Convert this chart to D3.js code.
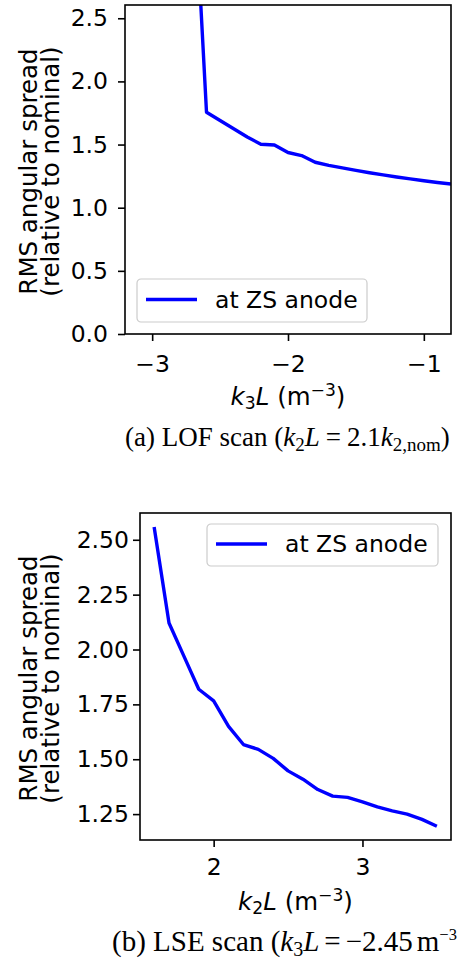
<!DOCTYPE html>
<html>
<head>
<meta charset="utf-8">
<script src="https://cdn.jsdelivr.net/npm/d3@7"></script>
<style>
  html, body { margin: 0; padding: 0; background: #fff; }
  svg { display: block; overflow: hidden; }
  .tick text { font-family: "DejaVu Sans", sans-serif; fill: #000; }
</style>
</head>
<body>
<svg id="fig" width="460" height="961"></svg>
<script>
// (a) LOF scan: k3L sweep at fixed k2L
const lofK3 = [-2.7, -2.6, -2.5, -2.4, -2.3, -2.2, -2.1, -2.0, -1.9, -1.8, -1.7, -1.6, -1.5, -1.4, -1.3, -1.2, -1.1, -1.0, -0.9, -0.8];
const lofSpread = [3.78, 1.756, 1.69, 1.625, 1.56, 1.503, 1.497, 1.437, 1.413, 1.36, 1.335, 1.315, 1.295, 1.277, 1.26, 1.243, 1.228, 1.213, 1.2, 1.187];
const lofXTicks = [-3, -2, -1];
const lofYTicks = [0, 0.5, 1.0, 1.5, 2.0, 2.5];

// (b) LSE scan: k2L sweep at fixed k3L
const lseK2 = [1.6, 1.7, 1.8, 1.9, 2.0, 2.1, 2.2, 2.3, 2.4, 2.5, 2.6, 2.7, 2.8, 2.9, 3.0, 3.1, 3.2, 3.3, 3.4, 3.5];
const lseSpread = [2.558, 2.121, 1.97, 1.819, 1.766, 1.65, 1.567, 1.545, 1.504, 1.447, 1.409, 1.362, 1.332, 1.326, 1.306, 1.283, 1.265, 1.25, 1.226, 1.195];
const lseXTicks = [2, 3];
const lseYTicks = [1.25, 1.50, 1.75, 2.00, 2.25, 2.50];

const seriesName = "at ZS anode";
const yLabel = ["RMS angular spread", "(relative to nominal)"];

const svg = d3.select("#fig");
const minus = s => s.replace("-", "\u2212");

function panel(cfg) {
  const x = d3.scaleLinear().domain(cfg.xDomain).range([cfg.left, cfg.right]);
  const y = d3.scaleLinear().domain(cfg.yDomain).range([cfg.bottom, cfg.top]);
  const g = svg.append("g");
  const clipId = "clip-" + cfg.id;
  g.append("clipPath").attr("id", clipId).append("rect")
    .attr("x", cfg.left).attr("y", cfg.top)
    .attr("width", cfg.right - cfg.left).attr("height", cfg.bottom - cfg.top);

  // data line
  const line = d3.line().x((d, i) => x(cfg.xs[i])).y(d => y(d));
  g.append("path").datum(cfg.ys)
    .attr("clip-path", `url(#${clipId})`)
    .attr("d", line).attr("fill", "none")
    .attr("stroke", "#0000ff").attr("stroke-width", 3.4)
    .attr("stroke-linejoin", "round").attr("stroke-linecap", "butt");

  // axes
  const xAxis = d3.axisBottom(x).tickValues(cfg.xTicks).tickSize(7)
    .tickPadding(cfg.xPad).tickSizeOuter(0).tickFormat(d => minus(d3.format("d")(d)));
  const yAxis = d3.axisLeft(y).tickValues(cfg.yTicks).tickSize(7)
    .tickPadding(cfg.yPad).tickSizeOuter(0).tickFormat(d3.format(cfg.yFmt));
  const gx = g.append("g").attr("transform", `translate(0,${cfg.bottom})`).call(xAxis);
  const gy = g.append("g").attr("transform", `translate(${cfg.left},0)`).call(yAxis);
  [gx, gy].forEach(a => {
    a.select(".domain").remove();
    a.selectAll(".tick line").attr("stroke", "#000").attr("stroke-width", 1.6);
    a.selectAll(".tick text").attr("font-size", cfg.tickSize);
  });

  // frame
  g.append("rect").attr("x", cfg.left).attr("y", cfg.top)
    .attr("width", cfg.right - cfg.left).attr("height", cfg.bottom - cfg.top)
    .attr("fill", "none").attr("stroke", "#000").attr("stroke-width", 1.6);

  // x label: k_nL (m^-3)
  const xl = g.append("text").attr("x", (cfg.left + cfg.right) / 2).attr("y", cfg.xLabelY)
    .attr("text-anchor", "middle").attr("font-family", "DejaVu Sans, sans-serif")
    .attr("font-size", cfg.labelSize);
  xl.append("tspan").attr("font-style", "italic").text("k");
  xl.append("tspan").attr("font-size", cfg.labelSize * 0.7).attr("dy", 4).text(cfg.xSub);
  xl.append("tspan").attr("font-style", "italic").attr("dy", -4).text("L");
  xl.append("tspan").text(" (m");
  xl.append("tspan").attr("font-size", cfg.labelSize * 0.7).attr("dy", -9).text("\u22123");
  xl.append("tspan").attr("dy", 9).text(")");

  // y label, two lines
  const cy = (cfg.top + cfg.bottom) / 2 + 2;
  yLabel.forEach((t, i) => {
    g.append("text").attr("transform", `translate(${cfg.yLabelX[i]},${cy}) rotate(-90)`)
      .attr("text-anchor", "middle").attr("dominant-baseline", "central")
      .attr("font-family", "DejaVu Sans, sans-serif").attr("font-size", cfg.labelSize)
      .text(t);
  });

  // legend
  const lg = g.append("g").attr("transform", `translate(${cfg.legX},${cfg.legY})`);
  lg.append("rect").attr("width", cfg.legW).attr("height", cfg.legH).attr("rx", 4)
    .attr("fill", "#fff").attr("fill-opacity", 0.8)
    .attr("stroke", "#cccccc").attr("stroke-width", 1.2);
  lg.append("line").attr("x1", 9).attr("x2", 60).attr("y1", cfg.legH / 2 - 1).attr("y2", cfg.legH / 2 - 1)
    .attr("stroke", "#0000ff").attr("stroke-width", 3.4);
  lg.append("text").attr("x", 78).attr("y", cfg.legH / 2 + 7)
    .attr("font-family", "DejaVu Sans, sans-serif").attr("font-size", cfg.labelSize - 1)
    .text(seriesName);

  return g;
}

panel({
  id: "a", left: 125, right: 451, top: 5, bottom: 334,
  xDomain: [-3.2, -0.8], yDomain: [0, 2.605],
  xs: lofK3, ys: lofSpread, xTicks: lofXTicks, yTicks: lofYTicks, yFmt: ".1f",
  xPad: 14, yPad: 10, tickSize: 23.5, labelSize: 24.5,
  xSub: "3", xLabelY: 405, yLabelX: [28, 50],
  legX: 137, legY: 279, legW: 230, legH: 43
});

panel({
  id: "b", left: 140, right: 451, top: 513, bottom: 840,
  xDomain: [1.505, 3.595], yDomain: [1.132, 2.622],
  xs: lseK2, ys: lseSpread, xTicks: lseXTicks, yTicks: lseYTicks, yFmt: ".2f",
  xPad: 11, yPad: 4, tickSize: 23.5, labelSize: 24.5,
  xSub: "2", xLabelY: 910, yLabelX: [28, 50],
  legX: 207, legY: 524, legW: 231, legH: 42
});

// captions
function caption(xPos, yPos, size, parts) {
  const t = svg.append("text").attr("x", xPos).attr("y", yPos)
    .attr("font-family", "Liberation Serif, Times New Roman, serif").attr("font-size", size);
  parts.forEach(p => {
    const s = t.append("tspan").text(p.t);
    if (p.i) s.attr("font-style", "italic");
    if (p.sz) s.attr("font-size", p.sz);
    if (p.dy) s.attr("dy", p.dy);
    if (p.dx) s.attr("dx", p.dx);
  });
}
caption(125, 446, 27, [
  { t: "(a) LOF scan (" }, { t: "k", i: 1 }, { t: "2", sz: 19, dy: 5 }, { t: "L", i: 1, dy: -5 },
  { t: "=", dx: 6 }, { t: "2.1", dx: 6 }, { t: "k", i: 1 }, { t: "2,nom", sz: 19, dy: 5 }, { t: ")", dy: -5 }
]);
caption(112, 951, 29, [
  { t: "(b) LSE scan (" }, { t: "k", i: 1 }, { t: "3", sz: 20, dy: 5 }, { t: "L", i: 1, dy: -5 },
  { t: "=", dx: 5 }, { t: "\u22122.45", dx: 5 }, { t: "m", dx: 4 }, { t: "\u22123", sz: 16.5, dy: -11 }
]);
</script>
</body>
</html>
